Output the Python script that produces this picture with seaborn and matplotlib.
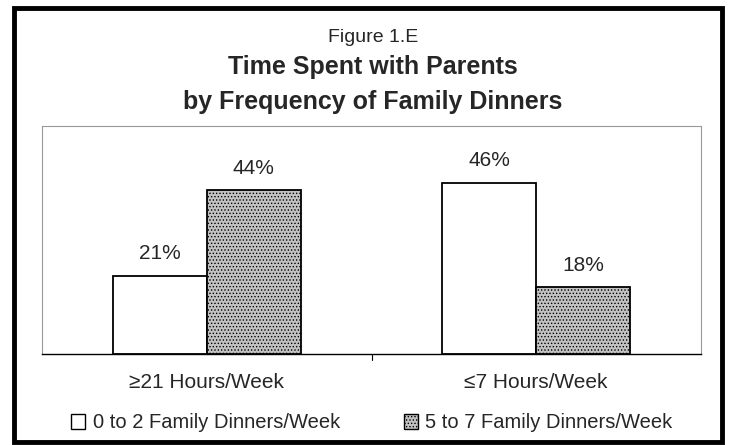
import pandas as pd
import matplotlib.pyplot as plt
import matplotlib.patches as mpatches
import seaborn as sns

sns.set_style("white")
plt.rcParams['font.family'] = ['Liberation Sans', 'DejaVu Sans']
plt.rcParams['hatch.color'] = '#505050'
plt.rcParams['hatch.linewidth'] = 0.6

# data
categories = ["\u226521 Hours/Week", "\u22647 Hours/Week"]
groups = ["0 to 2 Family Dinners/Week", "5 to 7 Family Dinners/Week"]
low_dinners = [21, 46]
high_dinners = [44, 18]

df = pd.DataFrame({
    "cat": categories * 2,
    "grp": [groups[0]] * 2 + [groups[1]] * 2,
    "val": low_dinners + high_dinners,
})

fig = plt.figure(figsize=(7.33, 4.45), dpi=100)
W, H = 733, 445
ax = fig.add_axes([42 / W, 1 - 354 / H, (701 - 42) / W, (354 - 126) / H])

sns.barplot(data=df, x="cat", y="val", hue="grp", order=categories, hue_order=groups,
            palette=["white", "#c2c2c2"], edgecolor="black", linewidth=1.3,
            width=0.57, legend=False, ax=ax)

# hatch the second series
for bar in ax.containers[1]:
    bar.set_hatch(".....")

for cont in ax.containers:
    ax.bar_label(cont, labels=[f"{v:.0f}%" for v in cont.datavalues],
                 padding=9, fontsize=15)

ax.set_ylim(0, 61.3)
ax.set_xlim(-0.5, 1.5)
ax.set_yticks([])
ax.set_xlabel("")
ax.set_ylabel("")
ax.tick_params(axis="x", labelsize=15, pad=14, length=0)
ax.axvline(0.5, ymin=-0.025, ymax=0, color="black", lw=0.8, clip_on=False)

for side in ["top", "left", "right"]:
    ax.spines[side].set_color("#999999")
    ax.spines[side].set_linestyle((0, (1, 1)))
    ax.spines[side].set_linewidth(0.8)
ax.spines["bottom"].set_color("black")
ax.spines["bottom"].set_linewidth(1.0)

# titles
fig.text(373 / W, 1 - 37 / H, "Figure 1.E", ha="center", va="center", fontsize=14)
fig.text(373 / W, 1 - 67 / H, "Time Spent with Parents", ha="center", va="center",
         fontsize=18, fontweight="bold")
fig.text(373 / W, 1 - 102 / H, "by Frequency of Family Dinners", ha="center", va="center",
         fontsize=18, fontweight="bold")

# legend
handles = [mpatches.Patch(facecolor="white", edgecolor="black", label=groups[0]),
           mpatches.Patch(facecolor="#c2c2c2", edgecolor="black", hatch=".....", label=groups[1])]
fig.legend(handles=handles, loc="center", bbox_to_anchor=(372 / W, 1 - 423 / H), ncol=2,
           frameon=False, fontsize=14.5, handlelength=0.7, handleheight=0.7,
           handletextpad=0.35, columnspacing=3.2, borderpad=0)

# outer border
fig.patches.append(mpatches.Rectangle((14 / W, 1 - 442 / H), (722 - 14) / W, (442 - 8) / H,
                                      transform=fig.transFigure, fill=False,
                                      edgecolor="black", linewidth=3.5))

fig.savefig("out.png", dpi=100)
